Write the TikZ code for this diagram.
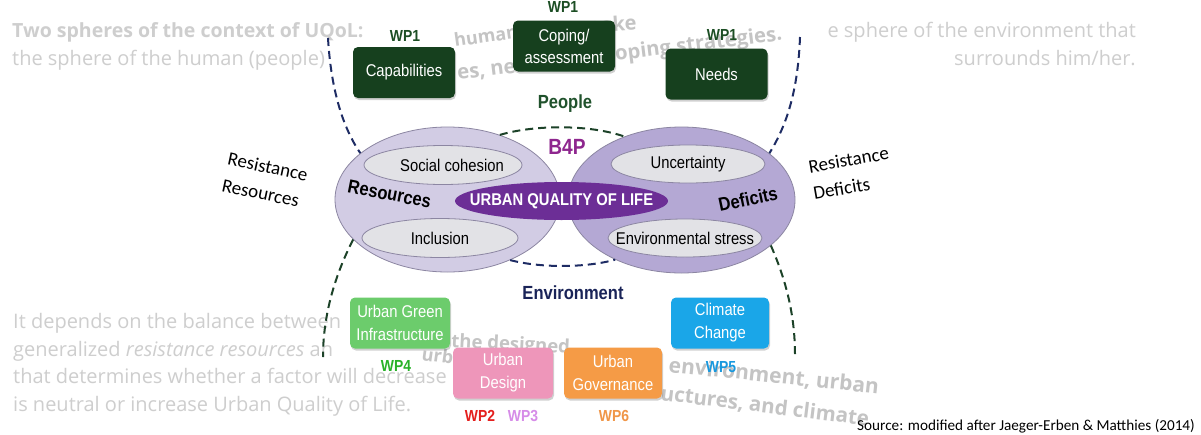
\documentclass[tikz,border=0pt]{standalone}
\usepackage{fontspec}
\setmainfont{Liberation Sans}
\newfontfamily\diagfont[FakeStretch=0.87]{Liberation Sans}
\newfontfamily\slidefont{Open Sans}
\newfontfamily\notefont{Carlito}
\usepackage{tikz}
\usetikzlibrary{shapes.geometric,shadows}
\newcommand{\setpx}[1]{\fontsize{#1}{#1}\selectfont}

\definecolor{wpdarkgreen}{RGB}{22,64,30}
\definecolor{wplabelgreen}{RGB}{28,78,36}
\definecolor{peoplegreen}{RGB}{32,82,44}
\definecolor{envnavy}{RGB}{26,36,88}
\definecolor{dashnavy}{RGB}{30,44,100}
\definecolor{dashgreen}{RGB}{28,66,40}
\definecolor{resfill}{RGB}{210,204,228}
\definecolor{deffill}{RGB}{180,168,212}
\definecolor{ellline}{RGB}{140,134,162}
\definecolor{cellfill}{RGB}{226,226,230}
\definecolor{uqolpurple}{RGB}{108,46,150}
\definecolor{bfourp}{RGB}{142,38,142}
\definecolor{ugreen}{RGB}{108,204,108}
\definecolor{wpfour}{RGB}{40,178,40}
\definecolor{upink}{RGB}{238,150,186}
\definecolor{wptwo}{RGB}{228,32,30}
\definecolor{wpthree}{RGB}{214,140,232}
\definecolor{uorange}{RGB}{245,155,70}
\definecolor{wpsix}{RGB}{240,150,72}
\definecolor{ublue}{RGB}{26,166,232}
\definecolor{wpfive}{RGB}{24,152,222}
\definecolor{fadegray}{RGB}{206,206,206}
\definecolor{overlaygray}{RGB}{196,196,196}

\tikzset{
  boxshadow/.style={drop shadow={shadow xshift=1pt, shadow yshift=-2pt, opacity=.3, fill=black!60}},
  wpbox/.style={rounded corners=5pt, fill=wpdarkgreen, text=white, minimum width=102pt, minimum height=51pt,
    inner sep=0pt, align=center, font=\diagfont\fontsize{17}{22}\selectfont, boxshadow},
  ubox/.style={rounded corners=5pt, text=white, minimum width=100pt, minimum height=51pt,
    inner sep=0pt, align=center, font=\diagfont\fontsize{17}{23}\selectfont, boxshadow},
  wplabel/.style={inner sep=0pt, font=\diagfont\bfseries\setpx{16}},
  bigell/.style={ellipse, draw=ellline, line width=.8pt, inner sep=0pt},
  cell/.style={ellipse, draw=ellline, fill=cellfill, line width=.8pt, inner sep=0pt, minimum height=39pt},
  celltext/.style={inner sep=0pt, font=\diagfont\setpx{17}},
  spheretitle/.style={inner sep=0pt, font=\diagfont\bfseries\setpx{19}},
  sphereline/.style={dash pattern=on 8pt off 5pt, line width=2pt},
  fadetext/.style={text=fadegray, inner sep=0pt, font=\slidefont\setpx{20}},
  overlaytext/.style={text=overlaygray, inner sep=0pt, font=\slidefont\bfseries\setpx{21}},
  resistlabel/.style={inner sep=0pt, align=left, font=\notefont\fontsize{19}{27}\selectfont},
}

\begin{document}
\begin{tikzpicture}[x=1pt,y=-1pt]
\useasboundingbox (0,0) rectangle (1201,434);
\fill[white] (0,0) rectangle (1201,434);

% slide text behind the diagram
\node[fadetext, anchor=base west, font=\slidefont\bfseries\setpx{19.5}] (slidetitle) at (12,37) {Two spheres of the context of UQoL:};
\node[fadetext, anchor=base west] (slidehuman) at (12,65) {the sphere of the human (people)};
\node[fadetext, anchor=base east] (slideenv) at (1136,37) {e sphere of the environment that};
\node[fadetext, anchor=base east] (slidesurr) at (1136,65) {surrounds him/her.};
\node[fadetext, anchor=base west] (balanceA) at (13,328) {It depends on the balance between};
\node[fadetext, anchor=base west] (balanceB) at (13,356) {generalized \textit{resistance resources} an};
\node[fadetext, anchor=base west] (balanceC) at (13,383) {that determines whether a factor will decrease};
\node[fadetext, anchor=base west] (balanceD) at (13,411) {is neutral or increase Urban Quality of Life.};

\node[overlaytext, anchor=base west, rotate=8, font=\slidefont\bfseries\setpx{18}] (humans) at (455,47) {humans};
\node[overlaytext, anchor=base east, rotate=4, font=\slidefont\bfseries\setpx{20}] (make) at (637,30) {make};
\node[overlaytext, anchor=base west, rotate=7, font=\slidefont\bfseries\setpx{20.3}] (strategies) at (458,80) {es, needs, and coping strategies.};
\node[overlaytext, anchor=base west, rotate=-3, font=\slidefont\bfseries\setpx{18.5}] (designed) at (451,347) {the designed};
\node[overlaytext, anchor=base west, rotate=-8, font=\slidefont\bfseries\setpx{18}] (urbanfrag) at (421,360) {urban};
\node[overlaytext, anchor=base west, rotate=-6] (environment) at (668,372) {environment, urban};
\node[overlaytext, anchor=base west, rotate=-7, font=\slidefont\bfseries\setpx{20.5}] (climate) at (660,400) {uctures, and climate};

% the two spheres
\node[bigell, fill=resfill, minimum width=225pt, minimum height=145pt] (resell) at (447.5,199.5) {};
\node[bigell, fill=deffill, minimum width=227pt, minimum height=146pt] (defell) at (681.5,200) {};

\coordinate (peopleTL) at (328,38);
\coordinate (peopleTR) at (800,37);
\coordinate (envBL) at (323,357);
\coordinate (envBR) at (795,355);
\draw[sphereline, dashnavy] (peopleTL) .. controls (331,90) and (343,128) .. (resell.152);
\draw[sphereline, dashnavy] (peopleTR) .. controls (798,90) and (787,125) .. (defell.28);
\draw[sphereline, dashgreen] (resell.203) .. controls (335,275) and (323,315) .. (envBL);
\draw[sphereline, dashgreen] (defell.333) .. controls (786,280) and (795,315) .. (envBR);
\draw[sphereline, dashgreen] (resell.51) .. controls (535,124.5) and (590,124.5) .. (defell.132);
\draw[sphereline, dashnavy] (resell.-44) .. controls (540,268) and (585,268) .. (defell.222);

\node[cell, minimum width=158pt] (cohesion) at (443,165) {};
\node[celltext] at (452,165) {Social cohesion};
\node[cell, minimum width=156pt] (inclusion) at (440,238) {};
\node[celltext] at (inclusion) {Inclusion};
\node[cell, minimum width=154pt, minimum height=38pt] (uncert) at (688,164) {};
\node[celltext] at (uncert) {Uncertainty};
\node[cell, minimum width=154pt, minimum height=38pt] (stress) at (685,238) {};
\node[celltext] at (stress) {Environmental stress};

\node[ellipse, fill=uqolpurple, minimum width=213pt, minimum height=38pt, inner sep=0pt] (uqol) at (561.5,201) {};
\node[inner sep=0pt, text=white, font=\diagfont\bfseries\setpx{17}] at (uqol) {URBAN QUALITY OF LIFE};

\node[spheretitle, rotate=-11] (resources) at (389.5,194) {Resources};
\node[spheretitle, rotate=12] (deficits) at (748,199) {Deficits};
\node[inner sep=0pt, text=bfourp, font=\diagfont\bfseries\setpx{22}] (bfp) at (567,147) {B4P};
\node[spheretitle, text=peoplegreen] (people) at (565,104) {People};
\node[spheretitle, text=envnavy] (envlabel) at (573,293) {Environment};

% people work packages
\node[wpbox] (capab) at (404,72.5) {Capabilities};
\node[wpbox] (coping) at (564,46) {Coping/\\assessment};
\node[wpbox] (needs) at (716.5,74) {Needs};
\node[wplabel, text=wplabelgreen] at (405,36) {WP1};
\node[wplabel, text=wplabelgreen] at (563,7) {WP1};
\node[wplabel, text=wplabelgreen] at (722,35) {WP1};

% environment work packages
\node[ubox, fill=ugreen] (greeninf) at (400,323) {Urban Green\\Infrastructure};
\node[ubox, fill=upink] (design) at (503,373) {Urban\\Design};
\node[ubox, fill=uorange, minimum width=98pt] (governance) at (613,373) {Urban\\Governance};
\node[ubox, fill=ublue, minimum width=98pt] (climchange) at (720,323) {Climate\\Change};
\node[wplabel, text=wpfour] at (396,366) {WP4};
\node[wplabel, text=wptwo] at (480,416) {WP2};
\node[wplabel, text=wpthree] at (523,416) {WP3};
\node[wplabel, text=wpsix] at (614,416) {WP6};
\node[wplabel, text=wpfive] at (721,367) {WP5};

\node[resistlabel, rotate=-12] (resres) at (265,180) {Resistance\\Resources};
\node[resistlabel, rotate=10] (resdef) at (851,173) {Resistance\\Deficits};
\node[inner sep=0pt, anchor=base east, font=\notefont\setpx{15.2}] (source) at (1195,430) {Source: modified after Jaeger-Erben \& Matthies (2014)};
\end{tikzpicture}
\end{document}
